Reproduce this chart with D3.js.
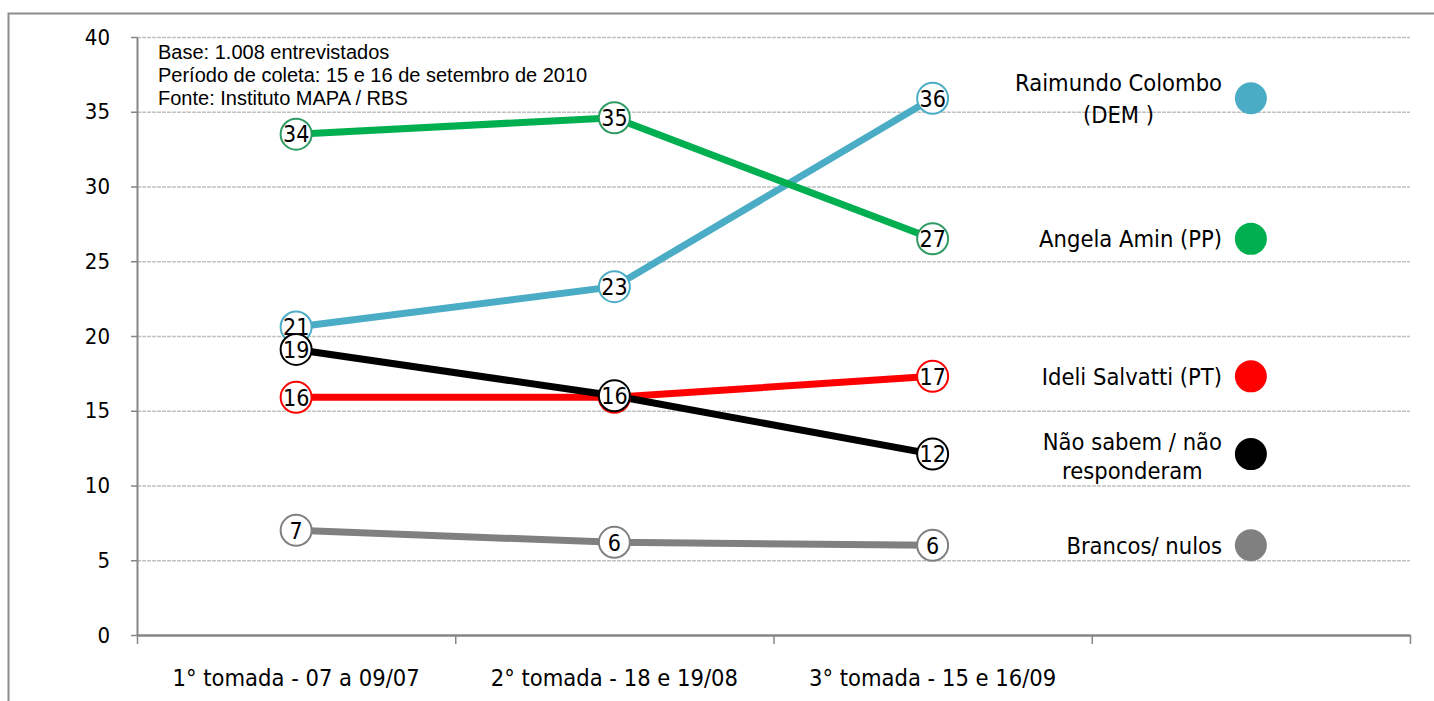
<!DOCTYPE html>
<html>
<head>
<meta charset="utf-8">
<script src="https://cdn.jsdelivr.net/npm/d3@7"></script>
<style>
  body { margin: 0; background: #fff; }
  svg { display: block; }
</style>
</head>
<body>
<div id="chart"></div>
<script>
// rounds of the poll (x categories)
const rounds = ['1° tomada - 07 a 09/07', '2° tomada - 18 e 19/08', '3° tomada - 15 e 16/09']

// series names, split in lines for the legend
const names = [
  ['Raimundo Colombo', '(DEM )'],
  ['Angela Amin (PP)'],
  ['Ideli Salvatti (PT)'],
  ['Não sabem / não', 'responderam'],
  ['Brancos/ nulos']
]

// values per series
const colombo = [20.6, 23.3, 35.9]
const amin = [33.5, 34.6, 26.5]
const salvatti = [15.9, 15.9, 17.3]
const naoSabem = [19.1, 16.0, 12.1]
const brancos = [7.0, 6.2, 6.0]

const yTicks = [0, 5, 10, 15, 20, 25, 30, 35, 40]

const notes = [
  'Base: 1.008 entrevistados',
  'Período de coleta: 15 e 16 de setembro de 2010',
  'Fonte: Instituto MAPA / RBS'
]

const lineColors = ['#4bacc6', '#00b050', '#ff0000', '#000000', '#808080']
const ringColors = ['#4bacc6', '#2e9b63', '#ff0000', '#000000', '#808080']

const series = [colombo, amin, salvatti, naoSabem, brancos]

const W = 1434, H = 701
const font = '"DejaVu Sans Condensed", "DejaVu Sans", sans-serif'

let svg = d3.select('#chart').append('svg')
  .attr('width', W)
  .attr('height', H)

// outer frame (only top and left visible)
svg.append('path')
  .attr('d', 'M8.5,' + H + ' V13.5 H' + W)
  .attr('fill', 'none')
  .attr('stroke', '#8c8c8c')
  .attr('stroke-width', 2)

// plot area
let plot = { left: 137, right: 1410, top: 37, bottom: 635 }

let xEdge = d3.scaleLinear()
  .domain([0, 4])
  .range([plot.left, plot.right])

let xScale = d3.scaleBand()
  .domain(rounds)
  .range([plot.left, xEdge(3)])

let yScale = d3.scaleLinear()
  .domain([0, 40])
  .range([plot.bottom, plot.top])

// gridlines
svg.append('g')
  .attr('transform', 'translate(' + plot.left + ',0)')
  .call(d3.axisLeft(yScale)
    .tickValues(yTicks.filter(d => d > 0))
    .tickSize(-(plot.right - plot.left))
    .tickFormat(''))
  .call(g => g.select('.domain').remove())
  .call(g => g.selectAll('line')
    .attr('stroke', '#c0c0c0')
    .attr('stroke-width', 1.5)
    .attr('stroke-dasharray', '4,1'))

// y axis
svg.append('g')
  .attr('transform', 'translate(' + plot.left + ',0)')
  .call(d3.axisLeft(yScale)
    .tickValues(yTicks)
    .tickSize(6)
    .tickSizeOuter(0)
    .tickPadding(21))
  .call(g => g.select('.domain').attr('stroke', '#868686').attr('stroke-width', 2))
  .call(g => g.selectAll('line').attr('stroke', '#868686').attr('stroke-width', 1.5))
  .call(g => g.selectAll('text')
    .style('font-family', font)
    .style('font-size', '22px')
    .attr('fill', '#000'))

// x axis with ticks at the band edges
svg.append('g')
  .attr('transform', 'translate(0,' + plot.bottom + ')')
  .call(d3.axisBottom(xEdge)
    .tickValues([0, 1, 2, 3, 4])
    .tickSize(9)
    .tickSizeOuter(0)
    .tickFormat(''))
  .call(g => g.select('.domain').attr('stroke', '#868686').attr('stroke-width', 2.5))
  .call(g => g.selectAll('line').attr('stroke', '#868686').attr('stroke-width', 1.5))

svg.append('g')
  .selectAll('text')
  .data(rounds)
  .enter().append('text')
    .attr('x', d => xScale(d) + xScale.bandwidth() / 2)
    .attr('y', 686)
    .attr('text-anchor', 'middle')
    .style('font-family', font)
    .style('font-size', '23.5px')
    .text(d => d)

// notes in the top left corner
svg.append('g')
  .selectAll('text')
  .data(notes)
  .enter().append('text')
    .attr('x', 158)
    .attr('y', (d, i) => 59 + i * 23)
    .style('font-family', '"Liberation Sans", Arial, sans-serif')
    .style('font-size', '20px')
    .text(d => d)

// lines
let line = d3.line()
  .x((d, i) => xScale(rounds[i]) + xScale.bandwidth() / 2)
  .y(d => yScale(d))

svg.append('g')
  .selectAll('path')
  .data(series)
  .enter().append('path')
    .attr('d', d => line(d))
    .attr('fill', 'none')
    .attr('stroke', (d, i) => lineColors[i])
    .attr('stroke-width', 7)

// markers with value labels
let fmt = d3.format('.0f')
series.forEach((s, si) => {
  let g = svg.append('g')
  let pts = g.selectAll('g')
    .data(s)
    .enter().append('g')
      .attr('transform', (d, i) => 'translate(' + (xScale(rounds[i]) + xScale.bandwidth() / 2) + ',' + yScale(d) + ')')
  pts.append('circle')
    .attr('r', 15.5)
    .attr('fill', '#fff')
    .attr('stroke', ringColors[si])
    .attr('stroke-width', 2)
  pts.append('text')
    .attr('text-anchor', 'middle')
    .attr('dy', '0.36em')
    .style('font-family', font)
    .style('font-size', '23px')
    .text(d => fmt(d))
})

// legend at the height of the last value of each series
let legendX = xEdge(3.5)
let legendRight = 1222
series.forEach((s, si) => {
  let cy = yScale(s[s.length - 1])
  svg.append('circle')
    .attr('cx', legendX)
    .attr('cy', cy)
    .attr('r', 16)
    .attr('fill', lineColors[si])

  let lines = names[si]
  let lh = lines.length > 1 && si === 0 ? 32 : 29
  let t = svg.append('text')
    .style('font-family', font)
    .style('font-size', '23.5px')
    .attr('text-anchor', 'middle')
  let spans = t.selectAll('tspan')
    .data(lines)
    .enter().append('tspan')
      .attr('y', (d, i) => cy + (i - (lines.length - 1) / 2) * lh + (si === 3 ? 2 : 0))
      .attr('dy', '0.36em')
      .text(d => d)
  let maxW = d3.max(spans.nodes(), n => n.getComputedTextLength())
  spans.attr('x', legendRight - maxW / 2)
})
</script>
</body>
</html>
